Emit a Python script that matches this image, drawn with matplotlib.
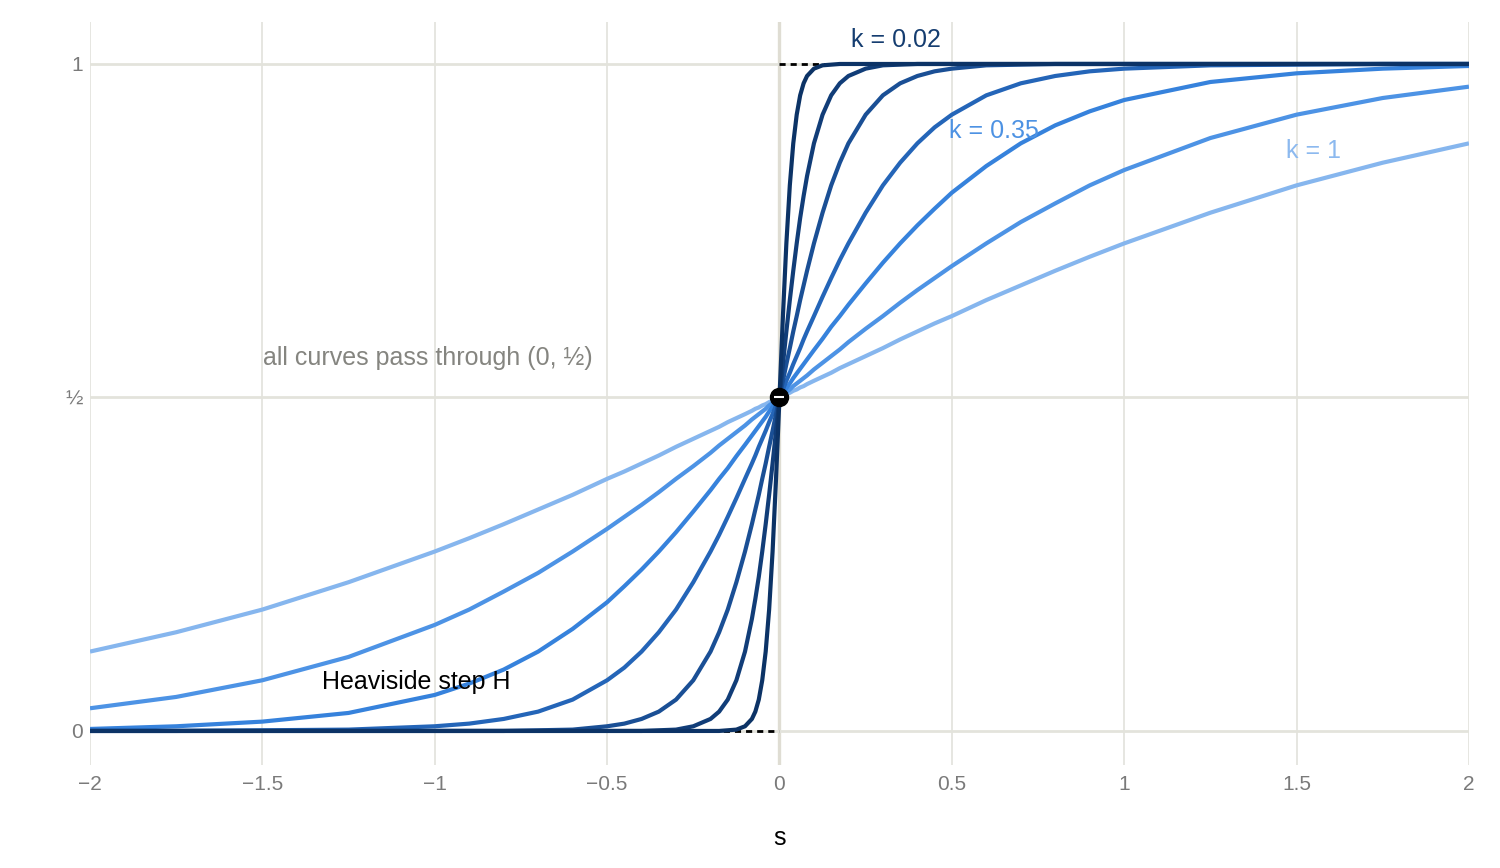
import matplotlib
matplotlib.use('Agg')
import matplotlib.pyplot as plt

plt.rcParams['font.family'] = ['Liberation Sans', 'DejaVu Sans']

# s grid (denser near 0, where the steep curves bend)
s = [-2, -1.75, -1.5, -1.25, -1, -0.9, -0.8, -0.7, -0.6, -0.5, -0.45, -0.4, -0.35,
     -0.3, -0.25, -0.2, -0.175, -0.15, -0.125, -0.1, -0.08, -0.07, -0.06, -0.05,
     -0.04, -0.03, -0.02, -0.01,
     0,
     0.01, 0.02, 0.03, 0.04, 0.05, 0.06, 0.07, 0.08, 0.1, 0.125, 0.15, 0.175, 0.2,
     0.25, 0.3, 0.35, 0.4, 0.45, 0.5, 0.6, 0.7, 0.8, 0.9, 1, 1.25, 1.5, 1.75, 2]

# curve values, one list per k
k_values = [1, 0.6, 0.35, 0.2, 0.1, 0.05, 0.02]

y_k1 = [0.119, 0.148, 0.182, 0.223, 0.269, 0.289, 0.31, 0.332, 0.354, 0.378, 0.389,
        0.401, 0.413, 0.426, 0.438, 0.45, 0.456, 0.463, 0.469, 0.475, 0.48, 0.483,
        0.485, 0.488, 0.49, 0.493, 0.495, 0.498,
        0.5,
        0.502, 0.505, 0.507, 0.51, 0.512, 0.515, 0.517, 0.52, 0.525, 0.531, 0.537,
        0.544, 0.55, 0.562, 0.574, 0.587, 0.599, 0.611, 0.622, 0.646, 0.668, 0.69,
        0.711, 0.731, 0.777, 0.818, 0.852, 0.881]

y_k06 = [0.034, 0.051, 0.076, 0.111, 0.159, 0.182, 0.209, 0.237, 0.269, 0.303, 0.321,
         0.339, 0.358, 0.378, 0.397, 0.417, 0.428, 0.438, 0.448, 0.458, 0.467, 0.471,
         0.475, 0.479, 0.483, 0.488, 0.492, 0.496,
         0.5,
         0.504, 0.508, 0.512, 0.517, 0.521, 0.525, 0.529, 0.533, 0.542, 0.552, 0.562,
         0.572, 0.583, 0.603, 0.622, 0.642, 0.661, 0.679, 0.697, 0.731, 0.763, 0.791,
         0.818, 0.841, 0.889, 0.924, 0.949, 0.966]

y_k035 = [0.003, 0.007, 0.014, 0.027, 0.054, 0.071, 0.092, 0.119, 0.153, 0.193, 0.217,
          0.242, 0.269, 0.298, 0.329, 0.361, 0.378, 0.394, 0.412, 0.429, 0.443, 0.45,
          0.457, 0.464, 0.471, 0.479, 0.486, 0.493,
          0.5,
          0.507, 0.514, 0.521, 0.529, 0.536, 0.543, 0.55, 0.557, 0.571, 0.588, 0.606,
          0.622, 0.639, 0.671, 0.702, 0.731, 0.758, 0.783, 0.807, 0.847, 0.881, 0.908,
          0.929, 0.946, 0.973, 0.986, 0.993, 0.997]

y_k02 = [0.0, 0.0, 0.001, 0.002, 0.007, 0.011, 0.018, 0.029, 0.047, 0.076, 0.095,
         0.119, 0.148, 0.182, 0.223, 0.269, 0.294, 0.321, 0.349, 0.378, 0.401, 0.413,
         0.426, 0.438, 0.45, 0.463, 0.475, 0.488,
         0.5,
         0.512, 0.525, 0.537, 0.55, 0.562, 0.574, 0.587, 0.599, 0.622, 0.651, 0.679,
         0.706, 0.731, 0.777, 0.818, 0.852, 0.881, 0.905, 0.924, 0.953, 0.971, 0.982,
         0.989, 0.993, 0.998, 0.999, 1.0, 1.0]

y_k01 = [0.0] * 7 + [0.001, 0.002, 0.007, 0.011, 0.018, 0.029, 0.047, 0.076, 0.119,
                     0.148, 0.182, 0.223, 0.269, 0.31, 0.332, 0.354, 0.378, 0.401,
                     0.426, 0.45, 0.475] + [0.5] + \
        [0.525, 0.55, 0.574, 0.599, 0.622, 0.646, 0.668, 0.69, 0.731, 0.777, 0.818,
         0.852, 0.881, 0.924, 0.953, 0.971, 0.982, 0.989, 0.993, 0.998, 0.999] + [1.0] * 7

y_k005 = [0.0] * 12 + [0.001, 0.002, 0.007, 0.018, 0.029, 0.047, 0.076, 0.119, 0.168,
                       0.198, 0.231, 0.269, 0.31, 0.354, 0.401, 0.45] + [0.5] + \
         [0.55, 0.599, 0.646, 0.69, 0.731, 0.769, 0.802, 0.832, 0.881, 0.924, 0.953,
          0.971, 0.982, 0.993, 0.998, 0.999] + [1.0] * 12

y_k002 = [0.0] * 17 + [0.001, 0.002, 0.007, 0.018, 0.029, 0.047, 0.076, 0.119, 0.182,
                       0.269, 0.378] + [0.5] + \
         [0.622, 0.731, 0.818, 0.881, 0.924, 0.953, 0.971, 0.982, 0.993, 0.998,
          0.999] + [1.0] * 17

curves = [y_k1, y_k06, y_k035, y_k02, y_k01, y_k005, y_k002]
colors = ['#86b6ee', '#4d93e5', '#3682dc', '#2465b8', '#1a4f95', '#113d78', '#0c3366']

x_ticks = [-2, -1.5, -1, -0.5, 0, 0.5, 1, 1.5, 2]
x_tick_labels = ['\u22122', '\u22121.5', '\u22121', '\u22120.5', '0', '0.5', '1', '1.5', '2']
y_ticks = [0, 0.5, 1]
y_tick_labels = ['0', '\u00bd', '1']

fig = plt.figure(figsize=(15, 8.68), dpi=100)
ax = fig.add_axes([0.06, 0.1187, 0.9193, 0.856])

# grid lines
for xt in x_ticks:
    if xt == 0:
        ax.axvline(xt, color='#dfddd3', lw=2.4, zorder=0)
    else:
        ax.axvline(xt, color='#e6e6e1', lw=1.4, zorder=0)
for yt in y_ticks:
    ax.axhline(yt, color='#e3e3dc', lw=2.0, zorder=0)

# Heaviside step
ax.plot([-2, 0], [0, 0], color='black', lw=2, dashes=(2.2, 1.8), zorder=1)
ax.plot([0, 2], [1, 1], color='black', lw=2, dashes=(2.2, 1.8), zorder=1)

for y, c in zip(curves, colors):
    ax.plot(s, y, color=c, lw=3.0, solid_capstyle='butt', solid_joinstyle='round', zorder=2)

# common point
ax.plot([0], [0.5], marker='o', color='black', markersize=13, zorder=5)
ax.plot([0], [0.5], marker='_', color='white', markersize=6.5, mew=1.5, zorder=6)

# annotations
ax.text(-1.02, 0.559, 'all curves pass through (0, \u00bd)', color='#858580',
        fontsize=18, ha='center', va='center')
ax.text(-1.053, 0.0735, 'Heaviside step H', color='black',
        fontsize=18, ha='center', va='center')
ax.text(0.338, 1.036, 'k = 0.02', color='#153d70', fontsize=18, ha='center', va='center')
ax.text(0.621, 0.90, 'k = 0.35', color='#4d92e3', fontsize=18, ha='center', va='center')
ax.text(1.549, 0.87, 'k = 1', color='#8cb9ef', fontsize=18, ha='center', va='center')

ax.set_xlim(-2, 2)
ax.set_ylim(-0.051, 1.063)
ax.set_xticks(x_ticks)
ax.set_xticklabels(x_tick_labels)
ax.set_yticks(y_ticks)
ax.set_yticklabels(y_tick_labels)
ax.tick_params(axis='both', length=0, labelsize=15, labelcolor='#7a7a7a')
ax.tick_params(axis='x', pad=7)
ax.tick_params(axis='y', pad=5)
for sp in ax.spines.values():
    sp.set_visible(False)

ax.set_xlabel('s', fontsize=18, labelpad=23)

fig.savefig('out.png', dpi=100)
